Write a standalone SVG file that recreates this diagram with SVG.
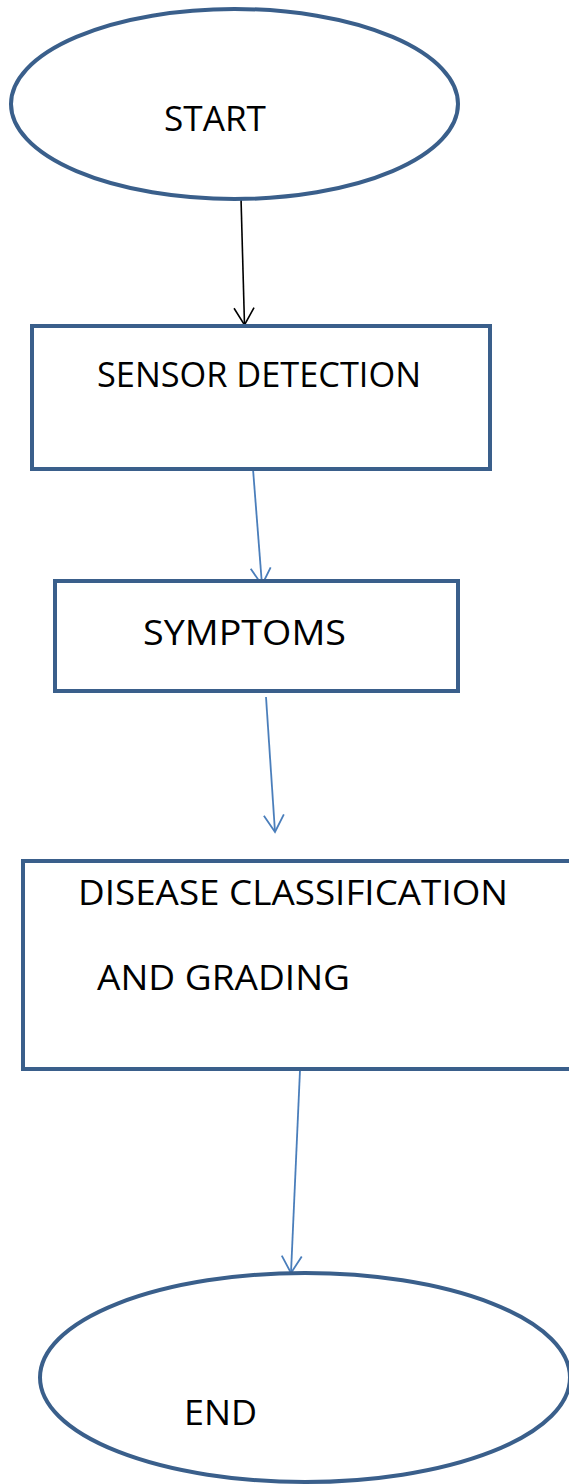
<svg xmlns="http://www.w3.org/2000/svg" width="569" height="1484" viewBox="0 0 569 1484">
<style>
.node{fill:#ffffff;stroke:#3A5F8B;stroke-width:4}
.lbl{font-family:"Open Sans","Noto Sans","Liberation Sans",sans-serif;font-size:34px;fill:#000000}
.blue{stroke:#4A7EBB;stroke-width:1.8;fill:none}
.black{stroke:#000000;stroke-width:1.6;fill:none}
</style>
<defs>
<marker id="ahBlue" markerUnits="userSpaceOnUse" markerWidth="40" markerHeight="40" refX="0" refY="0" orient="auto" viewBox="-20 -20 40 40" overflow="visible">
<path d="M-17,-10 L0,0 L-17,10" fill="none" stroke="#4A7EBB" stroke-width="1.8"/>
</marker>
<marker id="ahBlack" markerUnits="userSpaceOnUse" markerWidth="40" markerHeight="40" refX="0" refY="0" orient="auto" viewBox="-20 -20 40 40" overflow="visible">
<path d="M-17,-10 L0,0 L-17,10" fill="none" stroke="#000000" stroke-width="1.6"/>
</marker>
</defs>
<rect x="0" y="0" width="569" height="1484" fill="#ffffff"/>
<g id="connectors">
<line class="black" x1="241" y1="198" x2="244.5" y2="325" marker-end="url(#ahBlack)"/>
<line class="blue" x1="253" y1="469" x2="262" y2="585" marker-end="url(#ahBlue)"/>
<line class="blue" x1="266" y1="697" x2="275" y2="832" marker-end="url(#ahBlue)"/>
<line class="blue" x1="300" y1="1070" x2="291" y2="1273" marker-end="url(#ahBlue)"/>
</g>
<g id="start">
<ellipse class="node" cx="234.5" cy="104" rx="223.5" ry="95"/>
<text class="lbl" x="164" y="131" textLength="102" lengthAdjust="spacingAndGlyphs">START</text>
</g>
<g id="sensor">
<rect class="node" x="32" y="326" width="458" height="143"/>
<text class="lbl" x="97" y="387" textLength="324" lengthAdjust="spacingAndGlyphs">SENSOR DETECTION</text>
</g>
<g id="symptoms">
<rect class="node" x="55" y="581" width="403" height="110"/>
<text class="lbl" x="143" y="645" textLength="203" lengthAdjust="spacingAndGlyphs">SYMPTOMS</text>
</g>
<g id="disease">
<rect class="node" x="23" y="861" width="560" height="208"/>
<text class="lbl" x="78" y="905" textLength="430" lengthAdjust="spacingAndGlyphs">DISEASE CLASSIFICATION</text>
<text class="lbl" x="97" y="990" textLength="253" lengthAdjust="spacingAndGlyphs">AND GRADING</text>
</g>
<g id="end">
<ellipse class="node" cx="305" cy="1377.5" rx="265" ry="104.5"/>
<text class="lbl" x="184" y="1425" textLength="73" lengthAdjust="spacingAndGlyphs">END</text>
</g>
</svg>
